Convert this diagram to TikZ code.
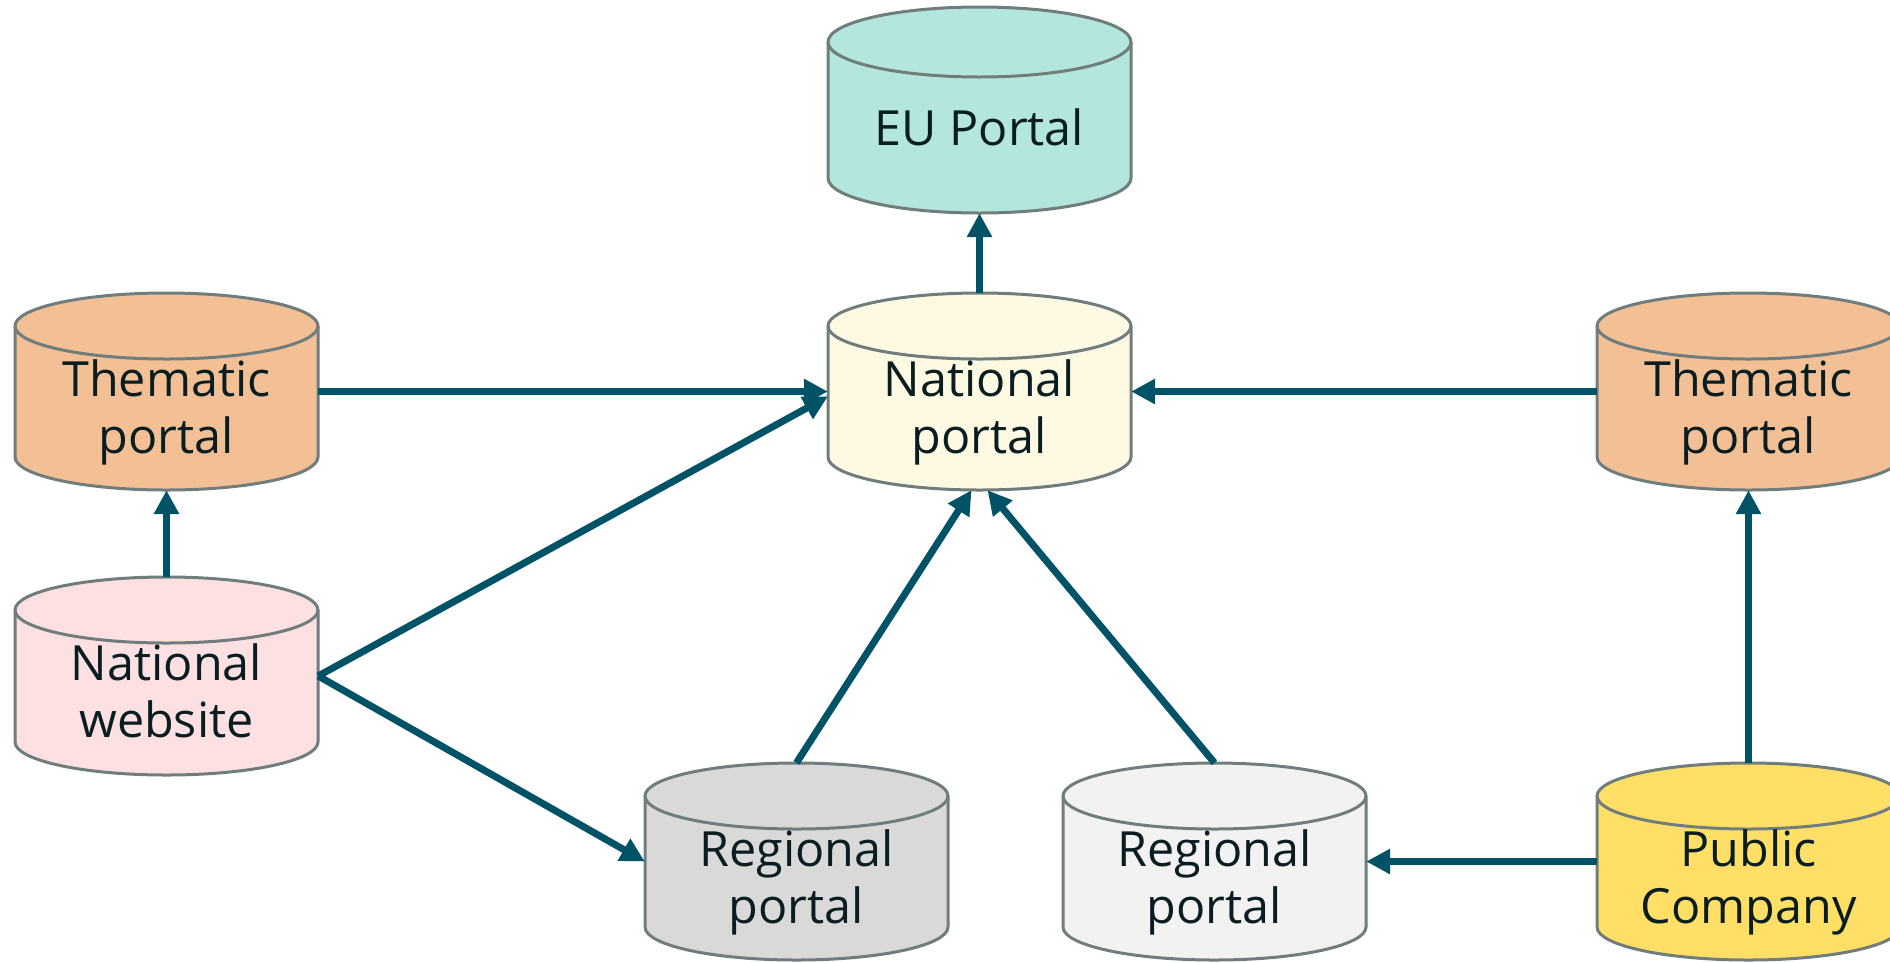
\documentclass[tikz,border=0pt]{standalone}
\usepackage{fontspec}
\setmainfont{Open Sans}
\usetikzlibrary{arrows.meta}
\definecolor{arrowc}{RGB}{0,83,103}
\definecolor{cylline}{RGB}{112,125,125}
\definecolor{txtc}{RGB}{10,30,34}
\definecolor{euc}{RGB}{179,230,220}
\definecolor{thc}{RGB}{243,192,150}
\definecolor{npc}{RGB}{254,249,227}
\definecolor{nwc}{RGB}{253,224,226}
\definecolor{rac}{RGB}{217,217,217}
\definecolor{rbc}{RGB}{242,242,242}
\definecolor{pcc}{RGB}{255,223,102}
\tikzset{
  cylbody/.style={draw=cylline, line width=3pt},
  lbl/.style={anchor=base, align=center, text=txtc, inner sep=0pt, font=\fontsize{48.5}{57}\selectfont},
  link/.style={draw=arrowc, line width=7pt, -{Triangle[length=24pt,width=24pt]}}
}
\newcommand\dbcyl[6]{%
  \pgfmathsetmacro\cL{#2}\pgfmathsetmacro\cR{#2+303}%
  \pgfmathsetmacro\cA{-(#3)-(#5)}\pgfmathsetmacro\cB{-(#3)-(#4)+(#5)}%
  \path[cylbody, fill=#6] (\cL,\cA) -- (\cL,\cB) arc[start angle=180,end angle=360,x radius=151.5,y radius=#5] -- (\cR,\cA) arc[start angle=0,end angle=180,x radius=151.5,y radius=#5] -- cycle;
  \draw[cylbody] (\cL,\cA) arc[start angle=180,end angle=360,x radius=151.5,y radius=#5];
  \node[inner sep=0pt, minimum width=303pt, minimum height={(#4)*1pt}] (#1) at ({#2+151.5},{-(#3)-(#4)/2}) {};
}
\begin{document}
\begin{tikzpicture}[x=1pt,y=1pt]
\useasboundingbox (0,0) rectangle (1890,-962);
\clip (0,0) rectangle (1890,-962);
\fill[white] (0,0) rectangle (1890,-962);
% cylinders
\dbcyl{eu}{828}{7}{206}{35}{euc}
\dbcyl{np}{828}{293}{197}{33}{npc}
\dbcyl{tl}{15}{293}{197}{33}{thc}
\dbcyl{tr}{1597}{293}{197}{33}{thc}
\dbcyl{nw}{15}{577}{198}{33}{nwc}
\dbcyl{ra}{645}{763}{197}{33}{rac}
\dbcyl{rb}{1063}{763}{197}{33}{rbc}
\dbcyl{pc}{1597}{763}{197}{33}{pcc}
% labels (base = baseline of the last line)
\node[lbl] (eut) at (979.5,-145) {EU Portal};
\node[lbl] (npt) at (979.5,-453) {National\\portal};
\node[lbl] (tlt) at (166.5,-453) {Thematic\\portal};
\node[lbl] (trt) at (1748.5,-453) {Thematic\\portal};
\node[lbl] (nwt) at (166.5,-737) {National\\website};
\node[lbl] (rat) at (796.5,-923) {Regional\\portal};
\node[lbl] (rbt) at (1214.5,-923) {Regional\\portal};
\node[lbl] (pct) at (1748.5,-923) {Public\\Company};
% connectors
\draw[link] (np.north) -- (eu.south);
\draw[link] (tl.east) -- (np.west);
\draw[link] (tr.west) -- (np.east);
\draw[link] (nw.north) -- (tl.south);
\draw[link] (nw.east) -- ([yshift=-5pt]np.west);
\draw[link] (nw.east) -- (ra.west);
\draw[link] (ra.north) -- ([xshift=-8pt]np.south);
\draw[link] (rb.north) -- ([xshift=8pt]np.south);
\draw[link] (pc.west) -- (rb.east);
\draw[link] (pc.north) -- (tr.south);
\end{tikzpicture}
\end{document}
